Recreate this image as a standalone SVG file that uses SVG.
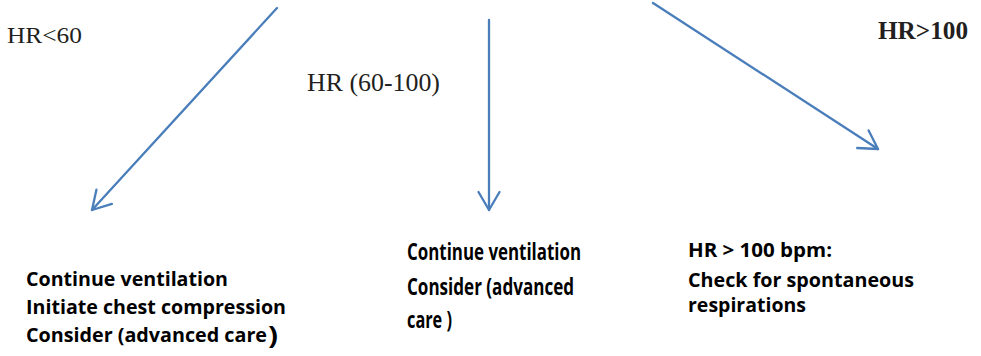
<svg xmlns="http://www.w3.org/2000/svg" width="981" height="356" viewBox="0 0 981 356">
  <style>
    .serif { font-family: "Liberation Serif", "Times New Roman", serif; fill: #231f20; }
    .body { font-family: "Open Sans", "Liberation Sans", Arial, sans-serif; font-weight: 700; fill: #000; }
    .conn { stroke: #4a7ebb; stroke-width: 2.3; fill: none; stroke-linecap: round; }
  </style>
  <defs>
    <marker id="openArrow" markerUnits="userSpaceOnUse" markerWidth="40" markerHeight="40" viewBox="-30 -20 40 40" refX="0" refY="0" orient="auto" overflow="visible">
      <path d="M-18,-10.5 L0,0 L-18,10.5" stroke="#4a7ebb" stroke-width="2.3" fill="none" stroke-linecap="round" stroke-linejoin="round"/>
    </marker>
  </defs>

  <!-- branch connectors -->
  <g id="connectors">
    <line class="conn" x1="277" y1="8" x2="92" y2="210" marker-end="url(#openArrow)"/>
    <line class="conn" x1="489" y1="20" x2="489" y2="210" marker-end="url(#openArrow)"/>
    <line class="conn" x1="653" y1="3" x2="878" y2="149" marker-end="url(#openArrow)"/>
  </g>

  <!-- heart-rate branch labels -->
  <g id="label-low">
    <text class="serif" x="7" y="43" font-size="24" textLength="75" lengthAdjust="spacingAndGlyphs">HR&lt;60</text>
  </g>
  <g id="label-mid">
    <text class="serif" x="307" y="91" font-size="25" textLength="133" lengthAdjust="spacingAndGlyphs">HR (60-100)</text>
  </g>
  <g id="label-high">
    <text class="serif" x="878" y="39" font-size="25" font-weight="700" textLength="90" lengthAdjust="spacingAndGlyphs">HR&gt;100</text>
  </g>

  <!-- actions for each branch -->
  <g id="action-low" class="body" font-size="19.5">
    <text x="26" y="286" textLength="202" lengthAdjust="spacingAndGlyphs">Continue ventilation</text>
    <text x="26" y="314" textLength="260" lengthAdjust="spacingAndGlyphs">Initiate chest compression</text>
    <text x="26" y="342" textLength="241" lengthAdjust="spacingAndGlyphs">Consider (advanced care</text>
    <text x="268" y="344" font-size="25" textLength="10" lengthAdjust="spacingAndGlyphs">)</text>
  </g>

  <g id="action-mid" class="body" font-size="23">
    <text x="407" y="260" textLength="174" lengthAdjust="spacingAndGlyphs">Continue ventilation</text>
    <text x="407" y="295" textLength="167" lengthAdjust="spacingAndGlyphs">Consider (advanced</text>
    <text x="407" y="328" textLength="45" lengthAdjust="spacingAndGlyphs">care )</text>
  </g>

  <g id="action-high" class="body" font-size="20">
    <text x="688" y="257" textLength="144" lengthAdjust="spacingAndGlyphs">HR &gt; 100 bpm:</text>
    <text x="688" y="287" textLength="226" lengthAdjust="spacingAndGlyphs">Check for spontaneous</text>
    <text x="688" y="312" textLength="118" lengthAdjust="spacingAndGlyphs">respirations</text>
  </g>
</svg>
